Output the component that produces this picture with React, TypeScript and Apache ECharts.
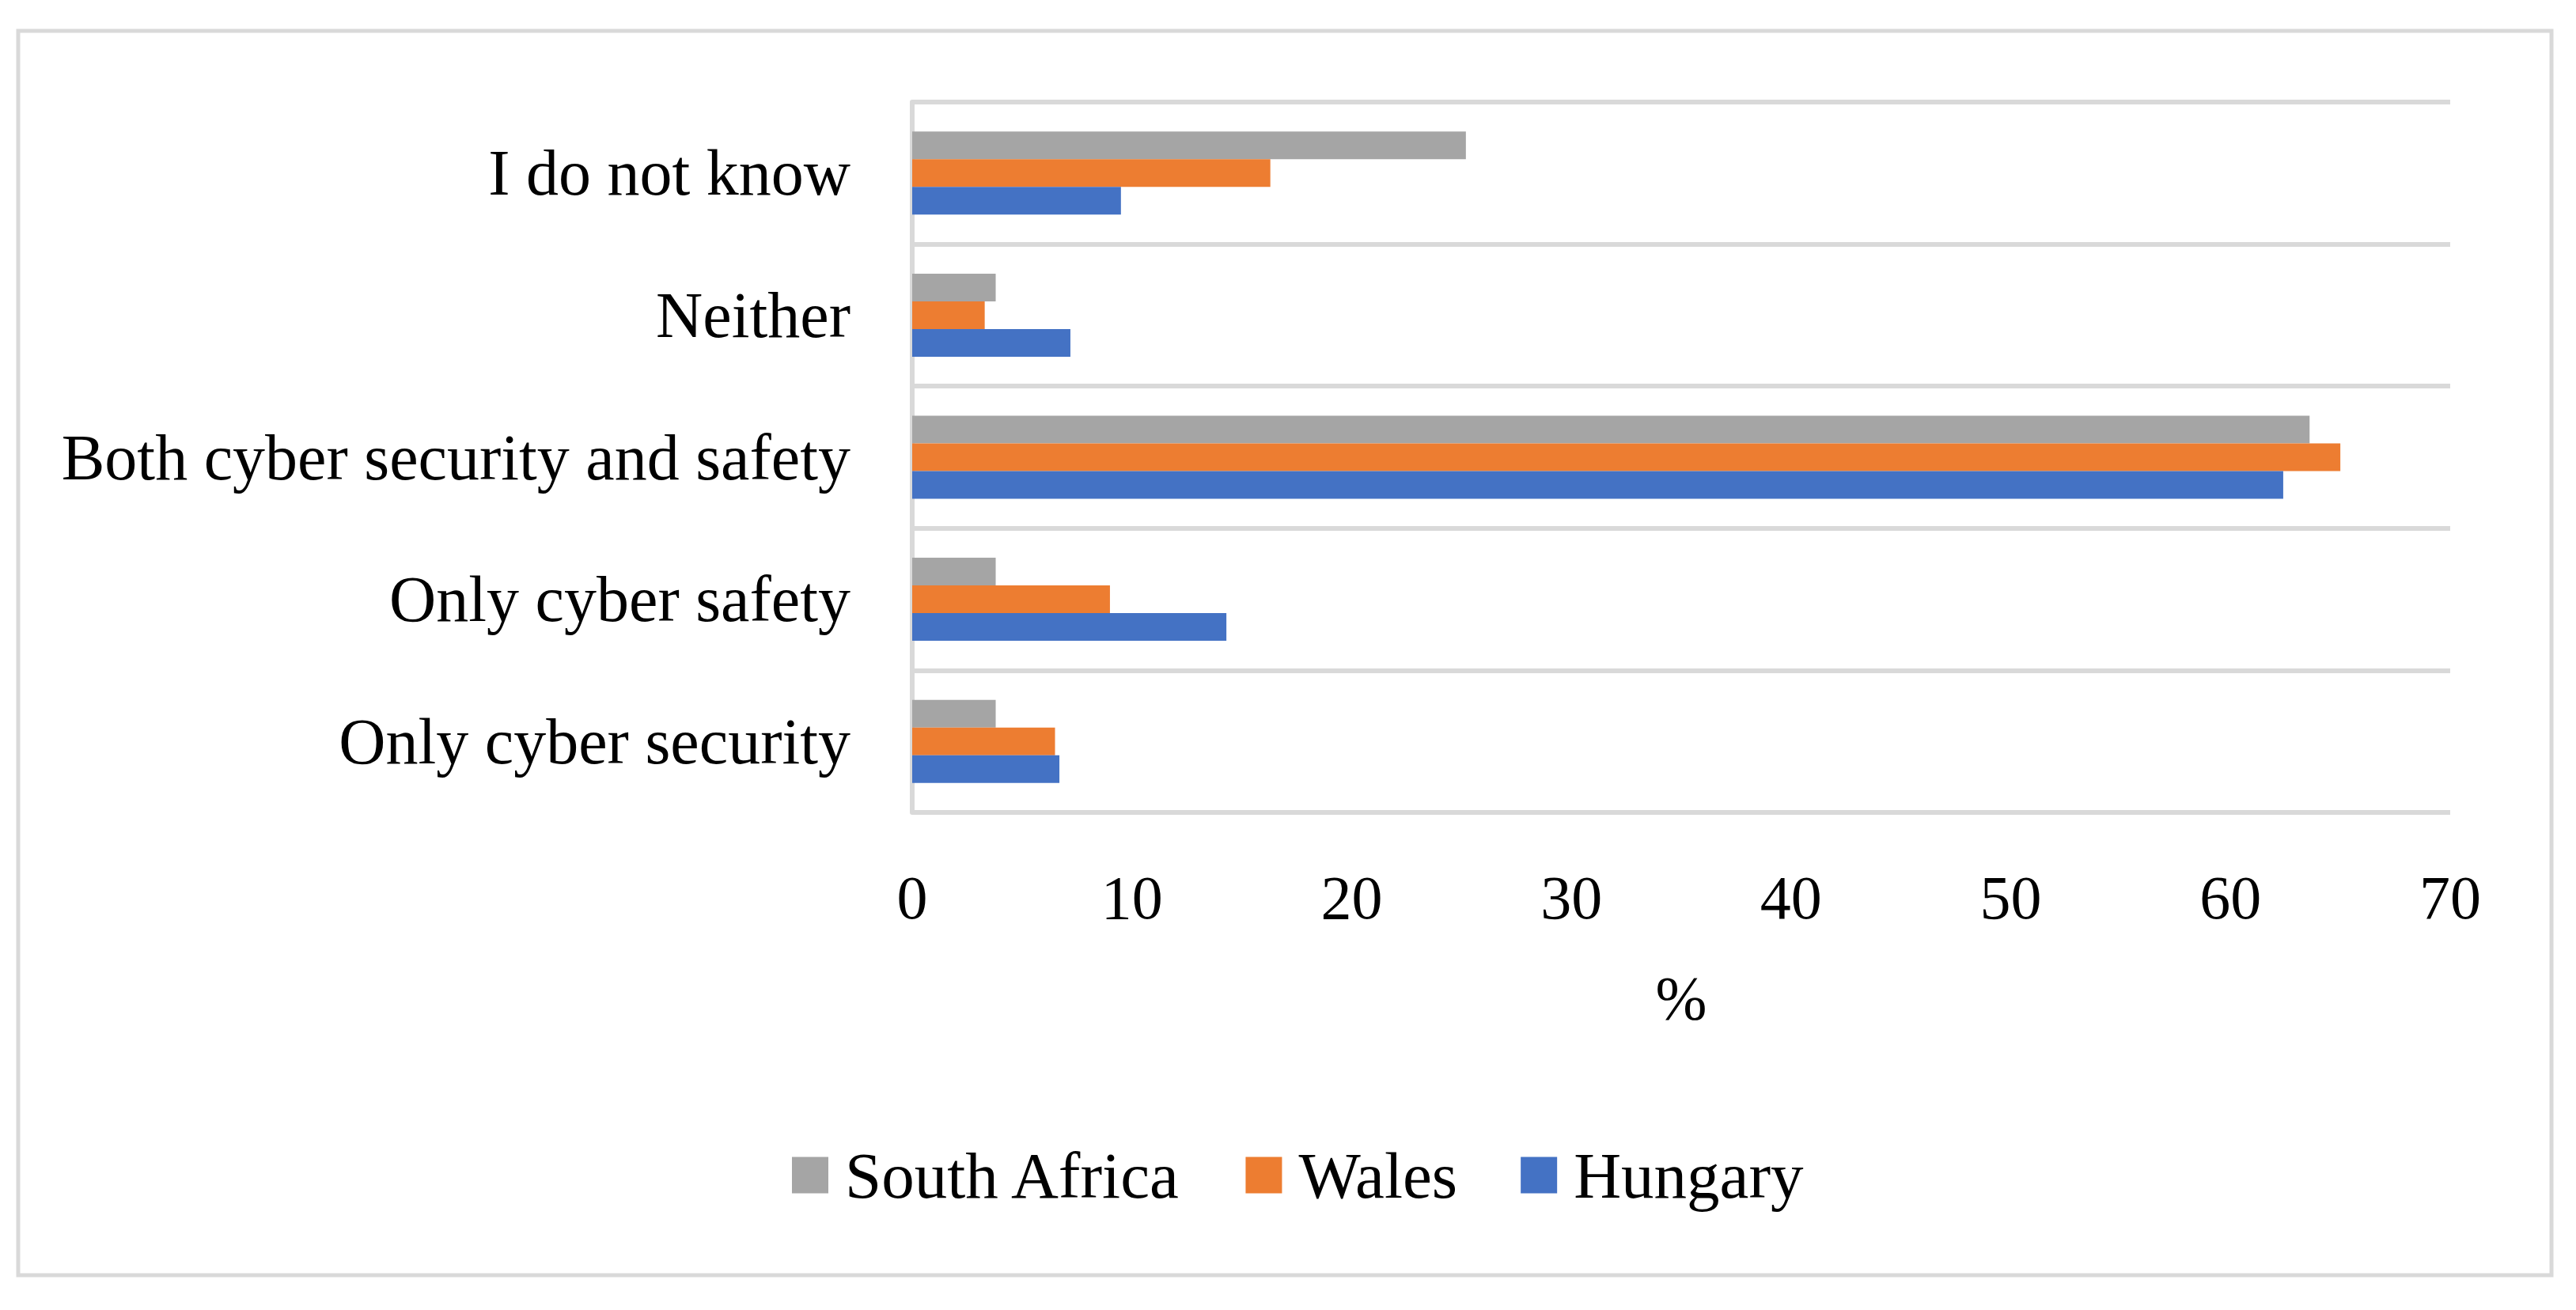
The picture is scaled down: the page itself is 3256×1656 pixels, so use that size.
import React, { useEffect, useRef } from "react";
import * as echarts from "echarts";

const categories = [
  "Only cyber security",
  "Only cyber safety",
  "Both cyber security and safety",
  "Neither",
  "I do not know",
];
const seriesNames = ["South Africa", "Wales", "Hungary"];
const southAfrica = [3.8, 3.8, 63.6, 3.8, 25.2];
const wales = [6.5, 9.0, 65.0, 3.3, 16.3];
const hungary = [6.7, 14.3, 62.4, 7.2, 9.5];
const colors = ["#A5A5A5", "#ED7D31", "#4472C4"];
const xTicks = { min: 0, max: 70, interval: 10 };
const axisTitle = "%";

const FONT = "'Liberation Serif', 'Times New Roman', serif";

export default function App() {
  const ref = useRef<HTMLDivElement>(null);
  useEffect(() => {
    if (!ref.current) return;
    const chart = echarts.init(ref.current, null, { renderer: "svg" });
    const values = [southAfrica, wales, hungary];
    chart.setOption({
      animation: false,
      backgroundColor: "#ffffff",
      textStyle: { fontFamily: FONT },
      grid: { left: 1153, right: 159, top: 129, bottom: 629 },
      graphic: [
        {
          type: "rect",
          shape: { x: 23, y: 39, width: 3202, height: 1573 },
          style: { fill: "none", stroke: "#d9d9d9", lineWidth: 5 },
          silent: true,
        },
      ],
      legend: {
        data: seriesNames,
        left: 996,
        top: 1439,
        icon: "rect",
        itemWidth: 46,
        itemHeight: 46,
        itemGap: 80,
        textStyle: {
          fontFamily: FONT,
          fontSize: 83,
          color: "#000",
          lineHeight: 83,
          padding: [0, 0, 0, 16],
        },
      },
      xAxis: {
        type: "value",
        min: xTicks.min,
        max: xTicks.max,
        interval: xTicks.interval,
        name: axisTitle,
        nameLocation: "middle",
        nameGap: 195,
        nameTextStyle: { fontFamily: FONT, fontSize: 78, color: "#000", lineHeight: 78 },
        axisLine: { show: false },
        axisTick: { show: false },
        splitLine: { show: false },
        axisLabel: {
          fontFamily: FONT,
          fontSize: 78,
          color: "#000",
          margin: 68,
          lineHeight: 78,
        },
      },
      yAxis: {
        type: "category",
        data: categories,
        axisLine: { show: true, lineStyle: { color: "#d9d9d9", width: 6 } },
        axisTick: { show: false },
        splitLine: { show: true, lineStyle: { color: "#d9d9d9", width: 6 } },
        axisLabel: {
          fontFamily: FONT,
          fontSize: 82,
          color: "#000",
          margin: 78,
          padding: [0, 0, 8, 0],
        },
      },
      series: seriesNames.map((name, i) => ({
        name,
        type: "bar",
        data: values[i],
        barWidth: 35,
        barGap: "0%",
        itemStyle: { color: colors[i] },
      })),
    });
    return () => chart.dispose();
  }, []);
  return (
    <div
      ref={ref}
      style={{ position: "fixed", left: 0, top: 0, width: 3256, height: 1656 }}
    />
  );
}
